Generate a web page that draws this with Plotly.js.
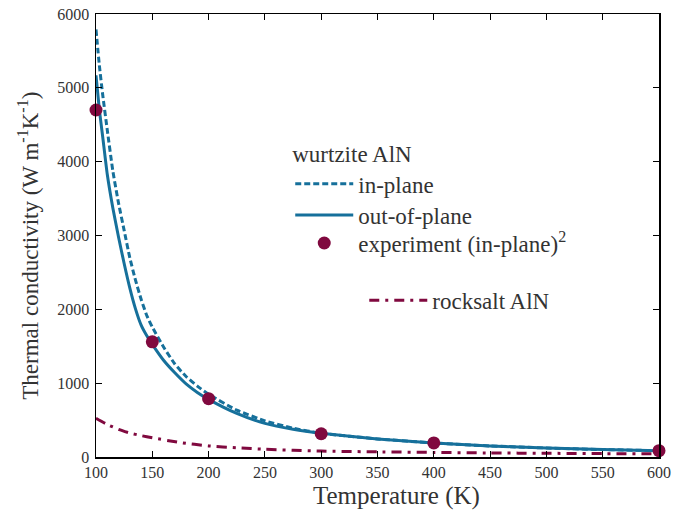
<!DOCTYPE html>
<html>
<head>
<meta charset="utf-8">
<script src="https://cdn.plot.ly/plotly-3.0.1.min.js"></script>
<style>html,body{margin:0;padding:0;background:#fff;}#chart{width:681px;height:511px;}</style>
</head>
<body>
<div id="chart"></div>
<script>
// Temperatures (K) for the computed curves
var tempCurve = [100,103,106,110,115,120,125,130,135,140,145,150,160,170,180,190,200,225,250,275,300,350,400,450,500,550,600];
// wurtzite AlN, in-plane (dashed)
var inPlane = [5790,5300,4900,4430,3870,3440,3070,2700,2400,2140,1920,1760,1490,1260,1090,960,850,635,490,390,321,245,190,150,122,101,86];
// wurtzite AlN, out-of-plane (solid)
var outOfPlane = [5170,4700,4330,3830,3370,2980,2620,2290,2010,1790,1645,1525,1310,1140,990,875,780,590,455,375,321,245,190,150,122,101,86];
// rocksalt AlN
var tempRock = [100,110,120,130,140,150,175,200,225,250,300,350,400,450,500,550,600];
var rocksalt = [524,440,375,325,290,260,195,150,125,105,80,70,62,55,50,46,42];
// experiment (in-plane)
var tempExp = [100,150,200,300,400,600];
var expVals = [4700,1560,790,315,190,85];

var xTicks = [100,150,200,250,300,350,400,450,500,550,600];
var yTicks = [0,1000,2000,3000,4000,5000,6000];

var BLUE = '#16709b';
var MAROON = '#80093f';
var FONT = 'Liberation Serif, Times New Roman, serif';

var traces = [
  {x: tempCurve, y: inPlane, type: 'scatter', mode: 'lines', name: 'in-plane',
   line: {color: BLUE, width: 3, dash: '6px,3px', shape: 'spline', smoothing: 0.5}, legend: 'legend'},
  {x: tempCurve, y: outOfPlane, type: 'scatter', mode: 'lines', name: 'out-of-plane',
   line: {color: BLUE, width: 3, shape: 'spline', smoothing: 0.5}, legend: 'legend3'},
  {x: tempExp, y: expVals, type: 'scatter', mode: 'markers', name: 'experiment (in-plane)<sup>2</sup>',
   marker: {color: MAROON, size: 13}, cliponaxis: false, legend: 'legend4'},
  {x: tempRock, y: rocksalt, type: 'scatter', mode: 'lines', name: 'rocksalt AlN',
   line: {color: MAROON, width: 3, dash: '10px,6px,3px,6px', shape: 'spline', smoothing: 0.5}, legend: 'legend2'}
];

var axisCommon = {
  showline: true, linecolor: '#000', linewidth: 1.5, mirror: 'allticks',
  ticks: 'inside', ticklen: 6, tickwidth: 1.2, tickcolor: '#000',
  showgrid: false, zeroline: false,
  tickfont: {family: FONT, size: 16, color: '#333'}
};

var legendFont = {family: FONT, size: 23, color: '#333'};
function leg(x, y, anchor) {
  return {x: x, y: y, xanchor: 'left', yanchor: anchor, bgcolor: 'rgba(0,0,0,0)',
          borderwidth: 0, itemwidth: 58, font: legendFont};
}

var legend1 = leg(0.345, 0.733, 'top');
legend1.title = {text: 'wurtzite AlN', font: legendFont};

var layout = {
  width: 681, height: 511,
  margin: {l: 95.5, r: 22, t: 14, b: 54},
  paper_bgcolor: '#fff', plot_bgcolor: '#fff',
  font: {family: FONT, color: '#333'},
  xaxis: Object.assign({}, axisCommon, {
    range: [100, 600], tickmode: 'array', tickvals: xTicks, ticktext: xTicks.map(String)
  }),
  yaxis: Object.assign({}, axisCommon, {
    range: [0, 6000], tickmode: 'array', tickvals: yTicks, ticktext: yTicks.map(String),
    ticklabelstandoff: 2
  }),
  annotations: [
    {text: 'Temperature (K)', xref: 'paper', yref: 'paper', x: 0.533, y: -0.089,
     xanchor: 'center', yanchor: 'middle', showarrow: false,
     font: {family: FONT, size: 25, color: '#333'}},
    {text: 'Thermal conductivity (W m<sup>-1</sup>K<sup>-1</sup>)', xref: 'paper', yref: 'paper',
     x: -0.12, y: 0.478, xanchor: 'center', yanchor: 'middle', textangle: -90, showarrow: false,
     font: {family: FONT, size: 23, color: '#333'}}
  ],
  showlegend: true,
  legend: legend1,
  legend3: leg(0.345, 0.546, 'middle'),
  legend4: leg(0.345, 0.483, 'middle'),
  legend2: leg(0.4765, 0.354, 'middle')
};

Plotly.newPlot('chart', traces, layout, {displayModeBar: false, staticPlot: true});
</script>
</body>
</html>
